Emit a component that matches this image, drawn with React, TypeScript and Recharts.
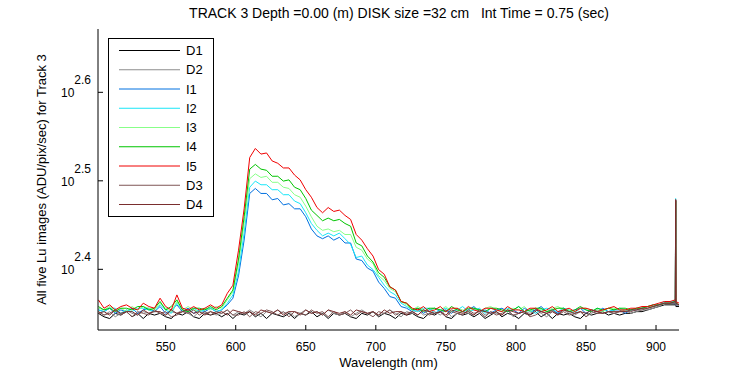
import React from "react";
import { LineChart, Line, XAxis, YAxis } from "recharts";

const FONT = "'Liberation Sans', Arial, Helvetica, sans-serif";

// wavelength grid (nm)
const wavelength = [
  502, 506, 510, 514, 518, 522, 526, 530, 534, 538, 542, 546, 550, 554, 558, 562, 566, 570, 574, 578,
  582, 586, 590, 594, 598, 602, 606, 610, 614, 618, 622, 626, 630, 634, 638, 642, 646, 650, 654, 658,
  662, 666, 670, 674, 678, 682, 686, 690, 694, 698, 702, 706, 710, 714, 718, 722, 726, 730, 734, 738,
  742, 746, 750, 754, 758, 762, 766, 770, 774, 778, 782, 786, 790, 794, 798, 802, 806, 810, 814, 818,
  822, 826, 830, 834, 838, 842, 846, 850, 854, 858, 862, 866, 870, 874, 878, 882, 886, 890, 894, 898,
  902, 906, 910, 913.8, 914, 914.2, 916.4,
];

const seriesNames = ["D1", "D2", "I1", "I2", "I3", "I4", "I5", "D3", "D4"];
const seriesColors = ["#000000", "#8c8c8c", "#0070e0", "#18e6f8", "#88ff88", "#00c400", "#f00000", "#7f5656", "#7a2e2e"];

// ADU/pix/sec
const d1 = [
  224, 222, 221, 224, 223, 225, 222, 224, 221, 224, 223, 224, 222, 221, 224, 223, 225, 222, 221, 224, 223, 224,
  222, 224, 221, 224, 223, 225, 222, 224, 221, 224, 223, 222, 224, 221, 224, 223, 225, 222, 224, 221, 224, 223, 224, 222, 221, 224, 223, 225, 222, 224, 223, 221, 224, 223,
  224, 222, 221, 224, 223, 225, 222, 221, 224, 223, 224, 222, 224, 221, 223, 225, 222, 224, 223, 221, 224, 223, 225, 222, 224, 221, 224, 223, 224, 222, 221, 224, 223, 224, 225, 223, 224, 223, 224, 224, 225, 225, 226, 227, 228, 229,
  229, 229, 300, 228, 228,
];
const d2 = [
  225, 223, 225, 222, 224, 226, 224, 223, 225, 224, 226, 224, 223, 225, 224, 226, 224, 222, 225, 224, 225, 223,
  224, 226, 223, 225, 224, 226, 224, 222, 225, 224, 226, 224, 225, 222, 224, 226, 224, 225, 223, 226, 224, 223, 225, 222, 224, 226, 224, 225, 223, 224, 226, 224, 222, 225,
  224, 226, 223, 224, 225, 223, 226, 222, 224, 225, 224, 223, 226, 223, 225, 224, 223, 226, 222, 224, 225, 224, 226, 224, 222, 225, 224, 226, 224, 223, 225, 222, 224, 226, 224, 225, 224, 225, 226, 224, 225, 226, 226, 227, 228, 230,
  230, 230, 301, 229, 229,
];
const i1 = [
  226, 225, 227, 224, 226, 225, 227, 224, 226, 227, 225, 228, 224, 226, 229, 225, 227, 224, 226, 225, 227, 225,
  226, 229, 233, 247, 271, 306, 310, 306, 306, 301, 302, 297, 298, 294, 294, 288, 279, 274, 272, 274, 271, 273, 269, 269, 258, 257, 252, 250, 243, 239, 234, 233, 228, 227,
  225, 227, 224, 226, 227, 225, 226, 224, 227, 225, 226, 228, 225, 226, 224, 226, 227, 225, 226, 224, 227, 225, 226, 228, 225, 226, 224, 227, 225, 226, 227, 224, 226, 225, 227, 225, 226, 226, 224, 226, 226, 227, 228, 228, 229, 230,
  230, 230, 301, 229, 229,
];
const i2 = [
  226, 225, 227, 227, 224, 226, 225, 227, 227, 226, 225, 229, 226, 224, 230, 226, 225, 227, 225, 226, 227, 225,
  226, 230, 235, 250, 276, 311, 316, 313, 313, 309, 309, 305, 305, 300, 298, 291, 283, 278, 274, 276, 274, 276, 272, 268, 259, 260, 254, 251, 246, 241, 237, 235, 230, 228,
  226, 225, 227, 227, 224, 226, 227, 225, 226, 228, 225, 226, 227, 224, 227, 226, 225, 227, 226, 228, 225, 226, 224, 226, 227, 226, 225, 227, 226, 224, 227, 226, 225, 227, 226, 225, 226, 227, 226, 226, 227, 227, 228, 229, 229, 231,
  231, 231, 302, 230, 229,
];
const i3 = [
  227, 226, 228, 226, 227, 225, 228, 226, 228, 227, 226, 230, 227, 225, 231, 226, 228, 226, 225, 227, 226, 228,
  227, 232, 237, 255, 283, 318, 322, 319, 320, 315, 315, 311, 310, 305, 303, 296, 288, 281, 278, 279, 277, 278, 275, 275, 266, 264, 258, 255, 247, 244, 239, 237, 231, 229,
  226, 228, 226, 225, 227, 226, 228, 225, 227, 226, 225, 227, 225, 227, 228, 226, 225, 226, 227, 226, 228, 225, 227, 226, 225, 227, 228, 226, 226, 225, 227, 227, 226, 226, 225, 227, 227, 226, 226, 226, 227, 227, 228, 228, 229, 230,
  230, 231, 300, 230, 229,
];
const i4 = [
  228, 226, 227, 225, 227, 227, 226, 228, 228, 226, 227, 231, 226, 228, 232, 226, 225, 227, 227, 226, 228, 226,
  228, 233, 238, 258, 288, 326, 330, 326, 325, 320, 320, 316, 317, 311, 309, 302, 293, 289, 285, 287, 285, 286, 283, 281, 269, 267, 260, 256, 249, 246, 240, 238, 231, 230,
  226, 227, 225, 227, 227, 226, 225, 228, 226, 225, 227, 227, 226, 225, 227, 227, 226, 225, 226, 228, 225, 226, 227, 227, 225, 226, 227, 227, 225, 226, 228, 226, 225, 227, 226, 227, 226, 227, 227, 226, 227, 227, 228, 229, 229, 230,
  230, 231, 300, 230, 229,
];
const i5 = [
  232, 227, 229, 226, 228, 229, 227, 226, 230, 228, 227, 233, 228, 226, 235, 227, 226, 228, 226, 227, 229, 227,
  229, 236, 241, 264, 294, 336, 344, 339, 340, 333, 331, 327, 327, 321, 317, 309, 303, 295, 291, 295, 292, 293, 289, 286, 275, 271, 265, 260, 251, 248, 240, 238, 231, 230,
  227, 226, 228, 225, 226, 228, 225, 227, 227, 225, 228, 226, 225, 227, 227, 226, 225, 228, 226, 226, 225, 227, 227, 225, 226, 228, 225, 226, 227, 225, 227, 227, 226, 225, 226, 227, 228, 226, 226, 227, 227, 228, 228, 229, 230, 231,
  231, 232, 301, 231, 230,
];
const d3 = [
  225, 223, 224, 226, 223, 225, 222, 225, 224, 223, 226, 224, 225, 222, 223, 225, 224, 226, 223, 225, 223, 225,
  224, 226, 223, 223, 225, 222, 225, 224, 226, 225, 223, 225, 222, 225, 224, 223, 226, 224, 225, 222, 225, 223, 224, 226, 223, 225, 224, 222, 225, 224, 226, 223, 225, 224,
  225, 223, 226, 223, 224, 225, 222, 225, 224, 223, 226, 224, 225, 222, 225, 223, 224, 226, 223, 224, 225, 222, 223, 225, 224, 226, 223, 225, 223, 224, 225, 222, 225, 224, 224, 225, 224, 225, 225, 225, 226, 226, 227, 228, 229, 230,
  230, 230, 301, 229, 229,
];
const d4 = [
  224, 225, 223, 226, 224, 225, 225, 223, 226, 224, 225, 225, 223, 226, 224, 225, 226, 224, 225, 223, 225, 224,
  225, 223, 226, 225, 224, 225, 223, 226, 225, 224, 226, 223, 225, 225, 223, 226, 224, 225, 223, 226, 225, 224, 225, 223, 226, 225, 224, 225, 223, 226, 224, 225, 225, 223,
  225, 223, 226, 225, 224, 225, 223, 226, 225, 224, 225, 223, 226, 225, 224, 225, 223, 226, 225, 224, 225, 223, 226, 225, 224, 225, 223, 226, 225, 224, 225, 224, 226, 225, 224, 225, 225, 225, 225, 226, 226, 227, 227, 228, 229, 230,
  230, 231, 301, 230, 229,
];

const xTicks = [550, 600, 650, 700, 750, 800, 850, 900];
const yTickExponents = [2.4, 2.5, 2.6];
const xDomain = [501.7, 916.4];
const yDomain = [214.5, 469.4];

const titleText = "TRACK 3 Depth =0.00 (m) DISK size =32 cm   Int Time = 0.75 (sec)";
const xLabel = "Wavelength (nm)";
const yLabel = "All five Lu images (ADU/pix/sec) for Track 3";

const seriesValues = [d1, d2, i1, i2, i3, i4, i5, d3, d4];
const rows = wavelength.map((w, i) => {
  const r: Record<string, number> = { w };
  seriesNames.forEach((n, k) => {
    r[n] = seriesValues[k][i];
  });
  return r;
});
const yTicks = yTickExponents.map((e) => Math.pow(10, e));

function BottomTick({ x, y, payload }: any) {
  return (
    <g>
      <line x1={x} y1={y} x2={x} y2={y - 5} stroke="#000" />
      <text x={x} y={y + 21} textAnchor="middle" fontSize={12} fontFamily={FONT} fill="#000">
        {payload.value}
      </text>
    </g>
  );
}

function TopTick({ x, y }: any) {
  return <line x1={x} y1={y} x2={x} y2={y + 5} stroke="#000" />;
}

function LeftTick({ x, y, payload }: any) {
  const exp = Math.log10(payload.value).toFixed(1);
  return (
    <g>
      <line x1={x} y1={y} x2={x + 5} y2={y} stroke="#000" />
      <text x={x - 7} y={y + 5} textAnchor="end" fontSize={12} fontFamily={FONT} fill="#000">
        <tspan>10</tspan>
        <tspan dy={-13}>{exp}</tspan>
      </text>
    </g>
  );
}

function RightTick({ x, y }: any) {
  return <line x1={x} y1={y} x2={x - 5} y2={y} stroke="#000" />;
}

function LegendBox() {
  const rowH = 19.25;
  return (
    <svg width={107} height={180} style={{ position: "absolute", left: 108, top: 38 }}>
      <rect x={0.5} y={0.5} width={105} height={178} fill="#fff" stroke="#000" />
      {seriesNames.map((n, k) => (
        <g key={n}>
          <line x1={11} x2={72} y1={12.5 + k * rowH} y2={12.5 + k * rowH} stroke={seriesColors[k]} />
          <text x={78} y={17 + k * rowH} fontSize={13} fontFamily={FONT} fill="#000">
            {n}
          </text>
        </g>
      ))}
    </svg>
  );
}

export default function App() {
  return (
    <div style={{ position: "absolute", left: 0, top: 0, width: 750, height: 375, background: "#fff" }}>
      <LineChart width={750} height={375} data={rows} margin={{ top: 29, right: 71, bottom: 5, left: 28 }}>
        <XAxis
          dataKey="w"
          type="number"
          domain={xDomain}
          allowDataOverflow
          ticks={xTicks}
          height={40}
          tickSize={0}
          tickMargin={0}
          tickLine={false}
          axisLine={{ stroke: "#000" }}
          tick={BottomTick}
        />
        <XAxis
          xAxisId="top"
          orientation="top"
          dataKey="w"
          type="number"
          domain={xDomain}
          allowDataOverflow
          ticks={xTicks}
          height={0}
          tickSize={0}
          tickMargin={0}
          tickLine={false}
          axisLine={{ stroke: "#000" }}
          tick={TopTick}
        />
        <YAxis
          scale="log"
          type="number"
          domain={yDomain}
          allowDataOverflow
          ticks={yTicks}
          width={70}
          tickSize={0}
          tickMargin={0}
          tickLine={false}
          axisLine={{ stroke: "#000" }}
          tick={LeftTick}
        />
        <YAxis
          yAxisId="right"
          orientation="right"
          scale="log"
          type="number"
          domain={yDomain}
          allowDataOverflow
          ticks={yTicks}
          width={0}
          tickSize={0}
          tickMargin={0}
          tickLine={false}
          axisLine={{ stroke: "#000" }}
          tick={RightTick}
        />
        {seriesNames.map((n, k) => (
          <Line
            key={n}
            dataKey={n}
            type="linear"
            stroke={seriesColors[k]}
            strokeWidth={1}
            dot={false}
            isAnimationActive={false}
          />
        ))}
      </LineChart>
      <svg
        width={750}
        height={375}
        style={{ position: "absolute", left: 0, top: 0, pointerEvents: "none" }}
      >
        <text x={399} y={18} textAnchor="middle" fontSize={14} fontFamily={FONT} fill="#000" style={{ whiteSpace: "pre" }}>
          {titleText}
        </text>
        <text x={388.5} y={367} textAnchor="middle" fontSize={13} fontFamily={FONT} fill="#000">
          {xLabel}
        </text>
        <text
          x={46}
          y={179.5}
          textAnchor="middle"
          fontSize={13}
          fontFamily={FONT}
          fill="#000"
          transform="rotate(-90, 46, 179.5)"
        >
          {yLabel}
        </text>
      </svg>
      <LegendBox />
    </div>
  );
}
